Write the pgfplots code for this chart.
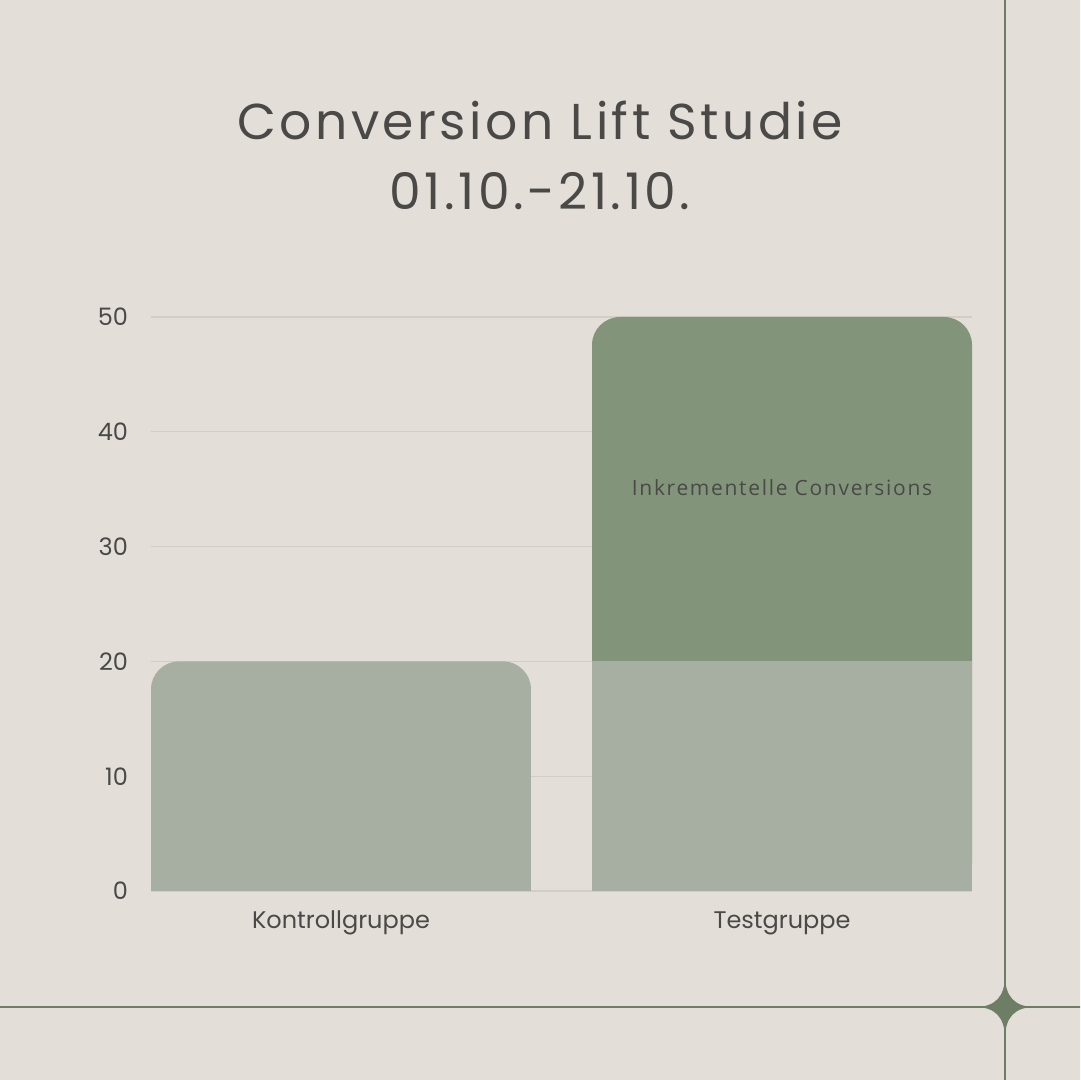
\documentclass[border=0pt]{standalone}
\usepackage{pgfplots}
\pgfplotsset{compat=1.18}
\usepackage{fontspec}
\setmainfont{Poppins}
\newfontfamily\titlefont[LetterSpace=7]{Poppins}
\newfontfamily\labelfont[LetterSpace=8]{Open Sans}

\definecolor{bg}{HTML}{E3DFD8}
\definecolor{gridc}{HTML}{D2CEC7}
\definecolor{lightbar}{HTML}{A7AFA3}
\definecolor{darkbar}{HTML}{82957A}
\definecolor{txt}{HTML}{4A4947}
\definecolor{deco}{HTML}{6C7E64}

\begin{document}
\begin{tikzpicture}
% page: 540pt x 540pt -> 1080 px
\useasboundingbox (0,0) rectangle (540pt,540pt);
\clip (0,0) rectangle (540pt,540pt);
\fill[bg] (-2pt,-2pt) rectangle (542pt,542pt);

% decoration
\draw[deco, line width=0.7pt] (502.5pt,-2pt) -- (502.5pt,542pt);
\draw[deco, line width=0.7pt] (-2pt,36.5pt) -- (542pt,36.5pt);
\fill[deco, shift={(502.5pt,36.5pt)}]
  (0,16pt) .. controls (0,5pt) and (5pt,0) .. (15pt,0)
  .. controls (5pt,0) and (0,-5pt) .. (0,-16pt)
  .. controls (0,-5pt) and (-5pt,0) .. (-15pt,0)
  .. controls (-5pt,0) and (0,5pt) .. (0,16pt) -- cycle;

% title
\node[txt, font=\titlefont\fontsize{25.2}{30}\selectfont, anchor=base] at (270pt,470pt) {Conversion Lift Studie};
\node[txt, font=\titlefont\fontsize{25.2}{30}\selectfont, anchor=base] at (270pt,435pt) {01.10.-21.10.};

\begin{axis}[
    at={(75.5pt,94.5pt)}, anchor=south west,
    scale only axis,
    width=410.5pt, height=287pt,
    ybar, bar width=190pt, bar shift=0pt,
    xmin=-0.4308, xmax=1.4308,
    ymin=0, ymax=50,
    xtick={0,1},
    xticklabels={Kontrollgruppe,Testgruppe},
    ytick={0,10,20,30,40,50},
    axis line style={draw=none},
    major tick length=0pt,
    ymajorgrids,
    major grid style={gridc, line width=0.6pt},
    tick label style={txt, font=\fontsize{12}{14}\selectfont},
    /pgf/number format/assume math mode=true,
    yticklabel style={xshift=-8pt},
    xticklabel style={anchor=base, yshift=-19pt},
    every axis plot/.append style={draw=none},
]
% Testgruppe total (rounded top), flat copy covers the bottom corners
\addplot[fill=darkbar, rounded corners=14pt] coordinates {(1,50)};
\addplot[fill=darkbar, yshift=-20pt] coordinates {(1,50)};
% Kontrollgruppe
\addplot[fill=lightbar, rounded corners=14pt] coordinates {(0,20)};
\addplot[fill=lightbar, yshift=-20pt] coordinates {(0,20)};
% Testgruppe baseline
\addplot[fill=lightbar] coordinates {(1,20)};

\node[txt, font=\labelfont\fontsize{10.5}{12}\selectfont] at (axis cs:1,35.1) {Inkrementelle Conversions};
\end{axis}
\end{tikzpicture}
\end{document}
